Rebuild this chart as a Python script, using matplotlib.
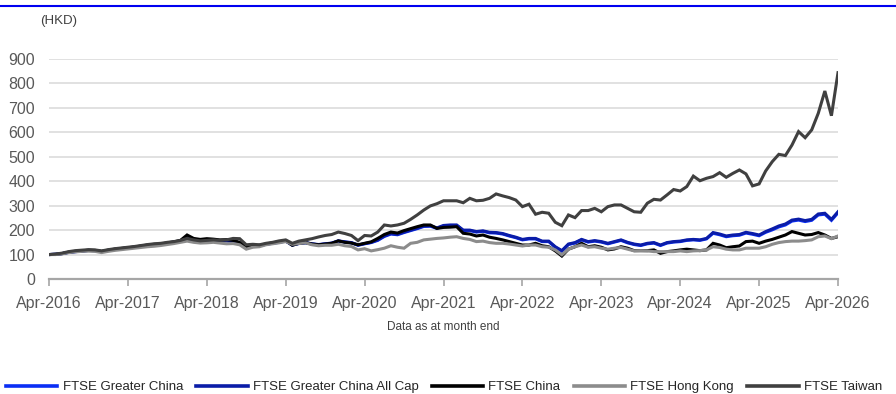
import numpy as np
import matplotlib
matplotlib.use('Agg')
import matplotlib.pyplot as plt
from matplotlib.lines import Line2D

plt.rcParams['font.family'] = ['Liberation Sans', 'DejaVu Sans']

# ── Data (monthly, Apr-2016 .. Apr-2026, rebased to 100) ─────────────────────
tick_labels = ['Apr-2016', 'Apr-2017', 'Apr-2018', 'Apr-2019', 'Apr-2020', 'Apr-2021',
               'Apr-2022', 'Apr-2023', 'Apr-2024', 'Apr-2025', 'Apr-2026']

greater_china = [
    100, 101, 104, 109, 112, 114, 117, 116, 112, 117,
    121, 124, 127, 130, 134, 137, 140, 142, 146, 150,
    155, 166, 159, 157, 159, 158, 156, 156, 154, 147,
    130, 135, 136, 142, 146, 150, 155, 139, 145, 148,
    143, 140, 143, 146, 155, 151, 148, 138, 144, 149,
    158, 174, 184, 181, 190, 198, 206, 215, 216, 207,
    217, 219, 219, 198, 198, 192, 195, 189, 188, 184,
    176, 169, 160, 164, 164, 153, 153, 130, 114, 141,
    147, 160, 151, 155, 151, 144, 151, 158, 148, 141,
    137, 144, 147, 137, 147, 151, 153, 158, 160, 158,
    164, 187, 181, 173, 177, 179, 188, 183, 177, 191,
    201, 213, 221, 237, 241, 235, 240, 262, 265, 240,
    271]

greater_china_all_cap = [
    100, 101, 104, 109, 112, 114, 117, 116, 112, 117,
    121, 124, 127, 130, 134, 138, 141, 142, 147, 151,
    156, 168, 160, 158, 160, 159, 157, 157, 155, 148,
    130, 136, 137, 142, 147, 151, 156, 139, 146, 149,
    144, 141, 144, 147, 156, 152, 149, 139, 145, 150,
    160, 176, 186, 183, 192, 200, 208, 217, 218, 209,
    219, 221, 221, 200, 200, 194, 197, 191, 190, 186,
    178, 171, 162, 166, 166, 155, 155, 132, 116, 143,
    149, 162, 153, 157, 153, 146, 153, 160, 150, 143,
    139, 146, 149, 139, 149, 153, 155, 160, 162, 160,
    166, 190, 184, 176, 180, 182, 191, 186, 180, 194,
    205, 217, 225, 241, 245, 239, 244, 266, 269, 244,
    275]

china = [
    100, 101, 104, 110, 113, 115, 118, 117, 113, 118,
    122, 125, 128, 131, 135, 139, 142, 143, 148, 152,
    158, 180, 166, 162, 165, 163, 160, 161, 158, 150,
    131, 137, 138, 143, 148, 152, 157, 138, 146, 149,
    143, 140, 143, 146, 156, 150, 147, 140, 146, 152,
    166, 182, 192, 188, 198, 206, 214, 221, 221, 207,
    211, 212, 214, 187, 184, 176, 180, 171, 166, 160,
    153, 146, 139, 139, 146, 136, 132, 115, 94, 122,
    132, 146, 132, 136, 130, 119, 123, 132, 126, 116,
    116, 116, 119, 105, 112, 115, 119, 122, 119, 116,
    119, 146, 139, 128, 132, 135, 153, 155, 146, 155,
    162, 171, 180, 194, 187, 180, 182, 190, 180, 166,
    173]

hong_kong = [
    100, 100, 103, 108, 111, 113, 114, 113, 108, 113,
    117, 120, 123, 126, 129, 132, 134, 137, 141, 145,
    150, 155, 150, 147, 148, 150, 147, 144, 145, 140,
    122, 130, 132, 140, 144, 148, 153, 142, 145, 148,
    140, 136, 138, 138, 142, 136, 133, 119, 124, 115,
    120, 126, 136, 130, 126, 146, 150, 160, 163, 166,
    168, 171, 173, 166, 162, 153, 155, 149, 146, 146,
    143, 139, 135, 139, 139, 132, 130, 119, 99, 122,
    132, 139, 130, 132, 126, 122, 126, 129, 122, 115,
    116, 115, 112, 112, 112, 112, 115, 112, 115, 116,
    119, 132, 129, 122, 119, 119, 126, 126, 126, 132,
    142, 149, 153, 155, 155, 157, 160, 173, 176, 165,
    176]

taiwan = [
    100, 102, 106, 112, 116, 118, 120, 119, 115, 120,
    124, 127, 130, 133, 137, 141, 144, 146, 150, 153,
    158, 166, 160, 156, 158, 160, 158, 160, 166, 165,
    140, 142, 140, 146, 150, 156, 160, 146, 155, 160,
    165, 172, 178, 182, 192, 186, 178, 157, 178, 176,
    192, 221, 217, 221, 228, 244, 262, 282, 299, 308,
    320, 320, 320, 312, 330, 320, 322, 330, 348, 340,
    333, 323, 296, 306, 265, 273, 269, 232, 218, 262,
    251, 280, 280, 289, 275, 296, 303, 303, 289, 275,
    273, 310, 326, 323, 344, 366, 360, 378, 421, 402,
    412, 419, 435, 416, 432, 446, 430, 381, 389, 442,
    480, 510, 505, 548, 603, 578, 610, 678, 769, 668,
    844]

series = [
    ('FTSE Greater China', greater_china, '#0A2EF5'),
    ('FTSE Greater China All Cap', greater_china_all_cap, '#0A1CA8'),
    ('FTSE China', china, '#000000'),
    ('FTSE Hong Kong', hong_kong, '#8C8C8C'),
    ('FTSE Taiwan', taiwan, '#404040'),
]

# ── Plot ──────────────────────────────────────────────────────────────────────
W, H = 896, 394
fig = plt.figure(figsize=(W / 100, H / 100), dpi=100, facecolor='white')
ax = fig.add_axes([49 / W, 1 - 279 / H, (838 - 49) / W, (279 - 59) / H])

months = np.arange(len(taiwan))
for name, vals, col in series:
    ax.plot(months, vals, color=col, linewidth=2.2, label=name,
            solid_joinstyle='miter', zorder=3)

ax.set_xlim(0, 120)
ax.set_ylim(0, 900)
ax.set_xticks(np.arange(0, 121, 12))
ax.set_xticklabels(tick_labels)
ax.set_yticks(np.arange(0, 901, 100))

for s in ['top', 'right', 'left']:
    ax.spines[s].set_visible(False)
ax.spines['bottom'].set_color('#A6A6A6')
ax.spines['bottom'].set_linewidth(1.6)
ax.grid(axis='y', color='#D9D9D9', linewidth=1.1)
ax.set_axisbelow(True)
ax.tick_params(axis='x', direction='out', length=5, width=1.2, color='#A6A6A6',
               labelsize=11.5, labelcolor='#595959', pad=7)
ax.tick_params(axis='y', length=0, labelsize=11.5, labelcolor='#595959', pad=10)

fig.text(40 / W, 1 - 21 / H, '(HKD)', fontsize=9.5, color='#404040', va='center')
fig.text(443 / W, 1 - 327 / H, 'Data as at month end', fontsize=8.5,
         color='#404040', ha='center', va='center')

# blue rule at top of the panel
fig.add_artist(Line2D([0, 1], [1 - 6 / H, 1 - 6 / H], transform=fig.transFigure,
                      color='#0000F0', linewidth=1.5))

handles, labels = ax.get_legend_handles_labels()
leg = fig.legend(handles, labels, loc='center', ncol=5, frameon=False,
                 bbox_to_anchor=(444 / W, 1 - 387 / H), fontsize=9.5,
                 handlelength=3.9, handletextpad=0.4, columnspacing=1.0,
                 borderaxespad=0)
for t in leg.get_texts():
    t.set_color('#262626')
for l in leg.get_lines():
    l.set_linewidth(2.6)

fig.savefig('out.png', dpi=100, facecolor='white')
